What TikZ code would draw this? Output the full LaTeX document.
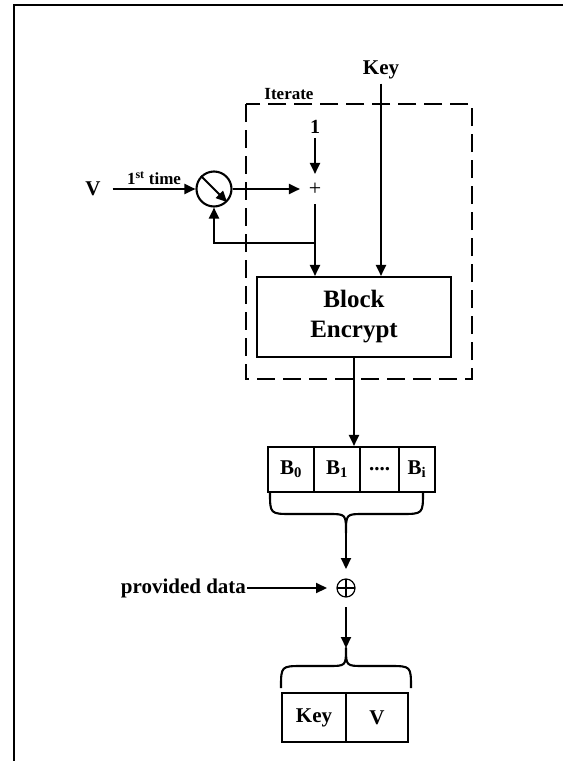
\documentclass[tikz,border=0pt]{standalone}
\usepackage{fontspec}
\setmainfont{Liberation Serif}
\usetikzlibrary{arrows.meta}

\begin{document}
\begin{tikzpicture}[x=1pt, y=-1pt, line width=2.1pt,
  arr/.style={-{Triangle[length=11pt,width=10pt]}},
  txt/.style={font=\bfseries\fontsize{21}{25}\selectfont},
  smalltxt/.style={font=\bfseries\fontsize{17}{20}\selectfont},
  cell/.style={draw, txt, minimum height=45pt, inner sep=0pt},
  bigtxt/.style={font=\bfseries\fontsize{25}{30}\selectfont}]
  \useasboundingbox (0,0) rectangle (563,761);
  % frame
  \draw[line width=2.8pt] (14,761) -- (14,5) -- (563,5);
  % iterate loop
  \draw[dash pattern=on 18pt off 8pt] (246,104) rectangle (472,379);
  \node[smalltxt] (iter) at (289,94) {Iterate};
  \node[txt] (key) at (381,70) {Key};
  \node[txt, inner sep=11pt] (v) at (93,189) {V};
  \node[draw, circle, minimum size=35pt, inner sep=0pt] (sw) at (214,189) {};
  \node[font=\fontsize{22}{22}\selectfont, minimum size=28pt, inner sep=0pt] (add) at (315,189) {+};
  \node[font=\bfseries\fontsize{20}{22}\selectfont] (one) at (315,127) {1};
  \node[draw, bigtxt, minimum width=194pt, minimum height=80pt, align=center] (blk) at (354,317) {Block\\Encrypt};
  \coordinate (fb) at (315,243);
  \draw[arr] (v) -- (sw) node[midway, above, smalltxt] {1\textsuperscript{st} time};
  \draw[arr] (sw.north west) -- (sw.south east);
  \draw[arr] (sw) -- (add);
  \draw[arr] (one) -- (add);
  \draw[arr] (add) -- (add |- blk.north);
  \draw[arr] (fb) -| (sw);
  \draw[arr] (key) -- (key |- blk.north);
  % output blocks
  \node[cell, minimum width=46pt] (b0) at (291,469.5) {B\textsubscript{0}};
  \node[cell, minimum width=46pt] (b1) at (337,469.5) {B\textsubscript{1}};
  \node[cell, minimum width=39pt] (bd) at (379.5,469.5) {....};
  \node[cell, minimum width=36pt] (bi) at (417,469.5) {B\textsubscript{i}};
  \draw[arr] (blk) -- (blk |- b1.north);
  \draw[line join=round] (270,492) .. controls (270,514) .. (292,514) -- (328,514)
    .. controls (346,514) .. (346,533) coordinate (tipa)
    .. controls (346,514) .. (364,514) -- (401,514) .. controls (423,514) .. (423,492);
  % xor with provided data
  \node[circle, draw, line width=1.2pt, minimum size=18pt, inner sep=0pt, outer sep=10pt,
    path picture={\draw[line width=1.2pt] (path picture bounding box.north) -- (path picture bounding box.south)
      (path picture bounding box.west) -- (path picture bounding box.east);}] (xor) at (346,588) {};
  \node[txt, anchor=east, inner sep=0pt] (pd) at (247,588) {provided data};
  \draw[arr] (tipa) -- (xor);
  \draw[arr] (pd) -- (xor);
  % new key and V
  \draw[line join=round] (281,688) .. controls (281,666) .. (303,666) -- (328,666)
    .. controls (346,666) .. (346,648) coordinate (tipb)
    .. controls (346,666) .. (364,666) -- (389,666) .. controls (411,666) .. (411,688);
  \draw[arr] (xor) -- (tipb);
  \node[cell, minimum width=64pt, minimum height=49pt] (kb) at (314,717.5) {Key};
  \node[cell, minimum width=62pt, minimum height=49pt] (vb) at (377,717.5) {V};
\end{tikzpicture}
\end{document}
